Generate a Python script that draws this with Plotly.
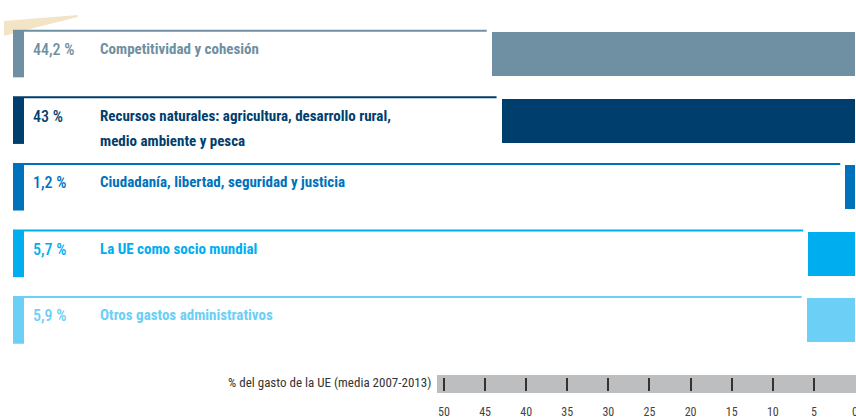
import plotly.graph_objects as go

# ---- data ----
categories = [
    "Competitividad y cohesión",
    "Recursos naturales: agricultura, desarrollo rural,<br>medio ambiente y pesca",
    "Ciudadanía, libertad, seguridad y justicia",
    "La UE como socio mundial",
    "Otros gastos administrativos",
]
values = [44.2, 43, 1.2, 5.7, 5.9]
colors = ["#6F8FA2", "#003E6D", "#0071BB", "#00AEEF", "#6BCFF6"]
tick_values = [50, 45, 40, 35, 30, 25, 20, 15, 10, 5, 0]
axis_title = "% del gasto de la UE (media 2007-2013)"

W, H = 856, 419
XMAX = 104.0
XMIN = -0.12
YTOP = -0.811
YBOT = 5.48


def px2x(px):
    return XMAX + (XMIN - XMAX) * px / W


def pct(v):
    return f"{v:g}".replace(".", ",") + " %"


NARROW = "Roboto Condensed, DejaVu Sans Condensed, sans-serif"

fig = go.Figure()
fig.add_trace(go.Bar(
    x=values, y=categories, orientation="h", width=0.66,
    marker=dict(color=colors, line=dict(width=0)),
    hoverinfo="skip", showlegend=False,
))

shapes = []
annotations = []
for i, (cat, v, c) in enumerate(zip(categories, values, colors)):
    top = i - 0.35
    bot = i + 0.35
    # top rule line
    shapes.append(dict(type="line", xref="x", yref="y",
                       x0=px2x(13), x1=v + 0.6, y0=top, y1=top,
                       line=dict(color=c, width=2), layer="below"))
    # left accent
    shapes.append(dict(type="rect", xref="x", yref="y",
                       x0=px2x(13), x1=px2x(24), y0=top, y1=bot,
                       fillcolor=c, line=dict(width=0), layer="below"))
    annotations.append(dict(
        xref="paper", yref="y", x=31 / W, y=cat, xanchor="left", yanchor="top",
        yshift=16, text=pct(v), showarrow=False,
        font=dict(family=NARROW, size=16, color=c, weight=500)))
    for k, line in enumerate(cat.split("<br>")):
        annotations.append(dict(
            xref="paper", yref="y", x=98 / W, y=cat, xanchor="left", yanchor="top",
            yshift=16 - 25 * k, text="<b>" + line + "</b>", showarrow=False,
            font=dict(family=NARROW, size=15, color=c)))

# gray axis band
shapes.append(dict(type="rect", xref="x", yref="y",
                   x0=px2x(437), x1=XMIN, y0=4.82, y1=5.09,
                   fillcolor="#BDBEC0", line=dict(width=0), layer="below"))

# faint decoration top-left
shapes.append(dict(type="path", xref="paper", yref="paper",
                   path=(f"M {4/W},{1-21/H} L {78/W},{1-15/H} L {78/W},{1-17/H} "
                         f"L {22/W},{1-31/H} L {4/W},{1-36/H} Z"),
                   fillcolor="#F3E4C6", line=dict(width=0), layer="below"))

annotations.append(dict(
    xref="paper", yref="y", x=433 / W, y=4.955, xanchor="right", yanchor="middle",
    yshift=2, text=axis_title, showarrow=False,
    font=dict(family=NARROW, size=13, color="#333333")))

fig.update_layout(
    width=W, height=H,
    margin=dict(l=0, r=0, t=0, b=0, autoexpand=False),
    paper_bgcolor="white", plot_bgcolor="white",
    shapes=shapes, annotations=annotations,
    xaxis=dict(range=[XMAX, XMIN], tickvals=tick_values,
               ticktext=[str(t) for t in tick_values],
               anchor="free", position=1 - 391 / H, automargin=False,
               ticks="inside", ticklen=13, tickwidth=1.5, tickcolor="#333333",
               ticklabelstandoff=12, ticklabeloverflow="allow",
               showgrid=False, zeroline=False, showline=False,
               tickfont=dict(family=NARROW, size=12, color="#444444")),
    yaxis=dict(range=[YBOT, YTOP], showticklabels=False, showgrid=False,
               zeroline=False, showline=False, ticks="", automargin=False),
    bargap=0,
)

fig.write_html("out.html", config={"displayModeBar": False},
               post_script="document.body.style.margin='0';")
